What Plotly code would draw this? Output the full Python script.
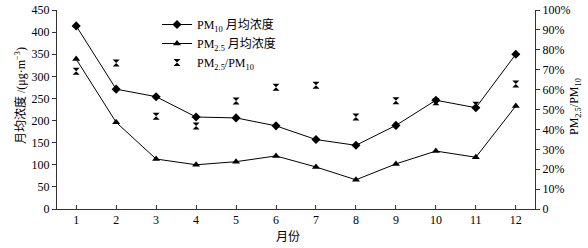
import plotly.graph_objects as go

months = list(range(1, 13))
month_labels = [str(m) for m in months]
pm10 = [414, 271, 254, 208, 206, 188, 157, 144, 189, 246, 229, 350]
pm25 = [339, 196, 113, 100, 107, 120, 95, 66, 102, 131, 117, 233]
ratio = [69.2, 73.4, 46.6, 41.7, 54.3, 61.2, 62.2, 46.2, 54.4, 53.9, 52.1, 62.8]

left_ticks = [0, 50, 100, 150, 200, 250, 300, 350, 400, 450]
right_ticks = [0, 10, 20, 30, 40, 50, 60, 70, 80, 90, 100]
right_ticktext = ["0"] + [f"{v}%" for v in right_ticks[1:]]

FONT = "Liberation Serif, Times New Roman, Noto Sans CJK SC, serif"
L, R, T, B, W, H = 57, 53, 10, 39, 588, 248
PW, PH = W - L - R, H - T - B


def px_x(px):
    return (px - L) / PW


def px_y(py):
    return (H - B - py) / PH


fig = go.Figure()
fig.add_trace(go.Scatter(
    x=months, y=pm10, mode="lines+markers", name="PM<sub>10</sub> 月均浓度",
    line=dict(color="black", width=1),
    marker=dict(symbol="diamond", size=7, color="black"),
))
fig.add_trace(go.Scatter(
    x=months, y=pm25, mode="lines+markers", name="PM<sub>2.5</sub> 月均浓度",
    line=dict(color="black", width=1),
    marker=dict(symbol="triangle-up", size=7, color="black"),
))
fig.add_trace(go.Scatter(
    x=months, y=ratio, mode="markers", name="PM<sub>2.5</sub>/PM<sub>10</sub>",
    marker=dict(symbol="hourglass", size=7, color="black"),
    yaxis="y2",
))

fig.update_layout(
    width=W, height=H,
    margin=dict(l=L, r=R, t=T, b=B),
    paper_bgcolor="white", plot_bgcolor="white",
    font=dict(family=FONT, size=12, color="black"),
    showlegend=True,
    legend=dict(x=px_x(157), y=px_y(10), xanchor="left", yanchor="top",
                bgcolor="rgba(0,0,0,0)", font=dict(size=12),
                tracegroupgap=0, itemwidth=30),
    xaxis=dict(
        range=[0.52, 12.48], tickvals=months, ticktext=month_labels,
        showline=True, linecolor="#333", linewidth=1,
        ticks="inside", ticklen=4, tickcolor="#333",
        showgrid=False, zeroline=False, automargin=False,
    ),
    yaxis=dict(
        range=[0, 450], tickvals=left_ticks,
        showline=True, linecolor="#333", linewidth=1,
        ticks="outside", ticklen=4, tickcolor="#333",
        showgrid=False, zeroline=False, automargin=False,
    ),
    yaxis2=dict(
        range=[0, 100], overlaying="y", side="right",
        tickvals=right_ticks, ticktext=right_ticktext,
        showline=True, linecolor="#333", linewidth=1,
        ticks="outside", ticklen=4, tickcolor="#333",
        showgrid=False, zeroline=False, automargin=False,
    ),
    annotations=[
        dict(text="月均浓度 /(μg·m<sup>−3</sup>)", textangle=-90,
             xref="paper", yref="paper", x=px_x(20), y=px_y(96),
             xanchor="center", yanchor="middle", showarrow=False,
             font=dict(size=12)),
        dict(text="PM<sub>2.5</sub>/PM<sub>10</sub>", textangle=-90,
             xref="paper", yref="paper", x=px_x(575), y=px_y(107),
             xanchor="center", yanchor="middle", showarrow=False,
             font=dict(size=12)),
        dict(text="月份",
             xref="paper", yref="paper", x=px_x(288), y=px_y(237),
             xanchor="center", yanchor="middle", showarrow=False,
             font=dict(size=12)),
    ],
)

fig.write_html(
    "out.html",
    config={"displayModeBar": False},
    post_script="document.body.style.margin='0';document.body.style.padding='0';",
)
